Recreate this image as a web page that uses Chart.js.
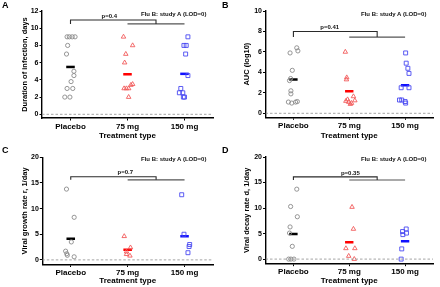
<!DOCTYPE html>
<html>
<head>
<meta charset="utf-8">
<script src="https://cdn.jsdelivr.net/npm/chart.js@4.4.1/dist/chart.umd.min.js"></script>
<style>
  html, body { margin: 0; padding: 0; background: #fff; }
  #wrap { position: relative; width: 440px; height: 287px; font-family: 'Liberation Sans', Arial, sans-serif; overflow: hidden; }
  .cell { position: absolute; }
  .cell canvas { display: block; }
  .lbl { position: absolute; font-weight: bold; font-size: 9px; line-height: 9px; color: #000; }
  .study { position: absolute; font-weight: bold; font-size: 6px; line-height: 6px; white-space: nowrap; color: #111; }
</style>
</head>
<body>
<div id="wrap">
  <div class="cell" style="left:0;top:0"><canvas id="cA" width="220" height="143"></canvas></div>
  <div class="cell" style="left:220px;top:0"><canvas id="cB" width="220" height="143"></canvas></div>
  <div class="cell" style="left:0;top:143px"><canvas id="cC" width="220" height="144"></canvas></div>
  <div class="cell" style="left:220px;top:143px"><canvas id="cD" width="220" height="144"></canvas></div>
  <div class="lbl" style="left:2px;top:1px">A</div>
  <div class="lbl" style="left:222px;top:1px">B</div>
  <div class="lbl" style="left:2px;top:146px">C</div>
  <div class="lbl" style="left:222px;top:146px">D</div>
  <div class="study" style="left:141px;top:11px">Flu B: study A (LOD=0)</div>
  <div class="study" style="left:361px;top:11px">Flu B: study A (LOD=0)</div>
  <div class="study" style="left:141px;top:156px">Flu B: study A (LOD=0)</div>
  <div class="study" style="left:361px;top:156px">Flu B: study A (LOD=0)</div>
</div>
<script>
const groups = ['Placebo', '75 mg', '150 mg'];

// A: duration of infection (days)
const durTicks = [0, 2, 4, 6, 8, 10, 12];
const durPlaceboVals = [9, 9, 9, 9, 8, 7, 5, 4.5, 3.8, 3, 3, 2, 2];
const durPlaceboJit = [-0.06, -0.02, 0.03, 0.08, -0.05, -0.07, 0.06, 0.06, 0.01, -0.06, 0.04, -0.1, -0.01];
const dur75Vals = [9, 8, 7, 6, 3.5, 3.4, 3, 3, 3, 2];
const dur75Jit = [-0.07, 0.09, -0.03, -0.05, 0.09, 0.06, -0.06, -0.02, 0.02, 0.02];
const dur150Vals = [9, 8, 8, 7, 4.5, 3, 2.5, 2.5, 2, 2];
const dur150Jit = [0.06, -0.01, 0.03, 0.02, 0.06, -0.065, -0.09, -0.03, -0.02, 0];
const durMedians = [5.5, 4.65, 4.7];
const durBracket = [10.95, 10.5];

// B: AUC (log10)
const aucTicks = [0, 2, 4, 6, 8, 10];
const aucPlaceboVals = [6.4, 6.1, 5.9, 4.2, 3.4, 3.2, 2.2, 1.9, 1.1, 1.0, 1.1, 1.15];
const aucPlaceboJit = [0.06, 0.08, -0.06, -0.02, -0.05, -0.07, -0.045, -0.045, -0.09, -0.03, 0.04, 0.07];
const auc75Vals = [6, 3.5, 3.3, 1.65, 1.35, 1.25, 1.2, 1.1, 0.9, 1.0];
const auc75Jit = [-0.07, -0.045, -0.05, 0.075, -0.03, 0.1, -0.06, -0.01, 0.02, 0.04];
const auc150Vals = [5.9, 4.9, 4.4, 3.9, 2.5, 2.5, 1.3, 1.3, 1.15, 1.0];
const auc150Jit = [0.01, 0.02, 0.05, 0.07, -0.07, 0.07, -0.1, -0.06, 0, 0.01];
const aucMedians = [3.3, 2.15, 2.75];
const aucBracket = [8, 7.45];

// C: viral growth rate r (1/day)
const growTicks = [0, 5, 10, 15, 20];
const growPlaceboVals = [13.8, 8.3, 3.5, 1.7, 1.2, 0.9, 0.6];
const growPlaceboJit = [-0.075, 0.06, 0.01, -0.09, -0.07, -0.06, 0.06];
const grow75Vals = [4.6, 2.4, 1.6, 1.1, 0.8];
const grow75Jit = [-0.06, 0.05, -0.02, -0.02, 0.04];
const grow150Vals = [12.7, 5.0, 3.0, 2.6, 1.4];
const grow150Jit = [-0.05, -0.01, 0.09, 0.08, 0.06];
const growMedians = [4.1, 2.0, 4.6];
const growBracket = [16.2, 15.6];

// D: viral decay rate d (1/day)
const decTicks = [0, 5, 10, 15, 20];
const decPlaceboVals = [13.7, 10.3, 8.3, 6.3, 5.1, 2.5, 0, 0, 0];
const decPlaceboJit = [0.06, -0.05, 0.07, -0.06, -0.07, -0.02, -0.085, -0.045, 0.01];
const dec75Vals = [10.2, 5.9, 2.1, 2.1, 0.6, 0];
const dec75Jit = [0.05, 0.075, -0.06, 0.1, -0.01, 0.09];
const dec150Vals = [5.9, 5.4, 5.1, 4.8, 2.0, 0];
const dec150Jit = [0.02, -0.045, 0.025, -0.04, -0.06, -0.07];
const decMedians = [4.9, 3.3, 3.5];
const decBracket = [16.1, 15.5];

const pTexts = ['p=0.4', 'p=0.41', 'p=0.7', 'p=0.35'];

const font = "'Liberation Sans', Arial, sans-serif";
const ptStyles = ['circle', 'triangle', 'rect'];
const ptRadius = [2.1, 2.6, 2.8];
const ptColors = ['#8a8a8a', '#f25a5a', '#4a4af2'];
const medColors = ['#000000', '#ff0000', '#1010ff'];

const panels = [
  { id: 'A', yTitle: 'Duration of infection, days', ticks: durTicks, yMin: -0.43, yMax: 12,
    vals: [durPlaceboVals, dur75Vals, dur150Vals], jit: [durPlaceboJit, dur75Jit, dur150Jit],
    med: durMedians, br: durBracket, p: pTexts[0], pX: 0.68,
    top: 11, yW: 42, xH: 25, yPad: 20.5, xPad: 2.2 },
  { id: 'B', yTitle: 'AUC (log10)', ticks: aucTicks, yMin: -0.39, yMax: 10,
    vals: [aucPlaceboVals, auc75Vals, auc150Vals], jit: [aucPlaceboJit, auc75Jit, auc150Jit],
    med: aucMedians, br: aucBracket, p: pTexts[1], pX: 0.65,
    top: 11, yW: 45.5, xH: 25.7, yPad: 22.5, xPad: 2.2 },
  { id: 'C', yTitle: 'Viral growth rate r, 1/day', ticks: growTicks, yMin: -0.9, yMax: 20,
    vals: [growPlaceboVals, grow75Vals, grow150Vals], jit: [growPlaceboJit, grow75Jit, grow150Jit],
    med: growMedians, br: growBracket, p: pTexts[2], pX: 0.96,
    top: 14.3, yW: 42.3, xH: 22.5, yPad: 20.5, xPad: 1.6 },
  { id: 'D', yTitle: 'Viral decay rate d, 1/day', ticks: decTicks, yMin: -0.9, yMax: 20,
    vals: [decPlaceboVals, dec75Vals, dec150Vals], jit: [decPlaceboJit, dec75Jit, dec150Jit],
    med: decMedians, br: decBracket, p: pTexts[3], pX: 1.02,
    top: 14, yW: 45.5, xH: 23.3, yPad: 22.5, xPad: 1.6 }
];

// p-value text above the comparison bracket
const pLabel = {
  id: 'pLabel',
  afterDatasetsDraw(chart, args, o) {
    if (!o || !o.text) return;
    const ctx = chart.ctx;
    const x = chart.scales.x.getPixelForValue(o.x);
    const y = chart.scales.y.getPixelForValue(o.y);
    ctx.save();
    ctx.font = 'bold 6px ' + font;
    ctx.fillStyle = '#111';
    ctx.textAlign = 'center';
    ctx.fillText(o.text, x, y - 2.3);
    ctx.restore();
  }
};

function makeChart(p) {
  const ds = [];
  ds.push({
    data: [{ x: -0.5, y: 0 }, { x: 2.5, y: 0 }],
    showLine: true, borderColor: '#9a9a9a', borderWidth: 0.9, borderDash: [2.5, 2],
    pointRadius: 0
  });
  for (let g = 0; g < 3; g++) {
    ds.push({
      data: p.vals[g].map((v, i) => ({ x: g + p.jit[g][i], y: v })),
      pointStyle: ptStyles[g], pointRadius: ptRadius[g],
      borderColor: ptColors[g], backgroundColor: 'rgba(0,0,0,0)', borderWidth: 0.9
    });
  }
  for (let g = 0; g < 3; g++) {
    ds.push({
      data: [{ x: g - 0.075, y: p.med[g] }, { x: g + 0.075, y: p.med[g] }],
      showLine: true, borderColor: medColors[g], borderWidth: 2.5, borderCapStyle: 'butt',
      pointRadius: 0
    });
  }
  // bracket: placebo vs. the two treatment groups
  ds.push({
    data: [{ x: 0, y: p.br[1] }, { x: 0, y: p.br[0] }, { x: 1.5, y: p.br[0] }, { x: 1.5, y: p.br[1] }],
    showLine: true, borderColor: '#2a2a2a', borderWidth: 1.1, pointRadius: 0
  });
  ds.push({
    data: [{ x: 1, y: p.br[1] }, { x: 2, y: p.br[1] }],
    showLine: true, borderColor: '#555', borderWidth: 1.1, pointRadius: 0
  });

  const ctx = document.getElementById('c' + p.id).getContext('2d');
  new Chart(ctx, {
    type: 'scatter',
    data: { datasets: ds },
    plugins: [pLabel],
    options: {
      responsive: false,
      animation: false,
      events: [],
      layout: { padding: { left: 0, top: p.top, right: 7, bottom: 0 } },
      plugins: {
        legend: { display: false },
        tooltip: { enabled: false },
        pLabel: { text: p.p, x: p.pX, y: p.br[0] }
      },
      scales: {
        x: {
          type: 'linear', min: -0.5, max: 2.5,
          afterBuildTicks: s => { s.ticks = groups.map((g, i) => ({ value: i })); },
          afterFit: s => { s.height = p.xH; },
          ticks: {
            callback: v => groups[v],
            font: { family: font, size: 8, weight: 'bold' }, color: '#000',
            padding: 1, maxRotation: 0, autoSkip: false
          },
          grid: { drawOnChartArea: false, drawTicks: true, tickLength: 2.5, tickColor: '#000', tickWidth: 1 },
          border: { display: true, color: '#000', width: 1.4 },
          title: {
            display: true, text: 'Treatment type', color: '#000',
            font: { family: font, size: 8, weight: 'bold' },
            padding: { top: 0, bottom: p.xPad }
          }
        },
        y: {
          min: p.yMin, max: p.yMax,
          afterBuildTicks: s => { s.ticks = p.ticks.map(v => ({ value: v })); },
          afterFit: s => { s.width = p.yW; },
          ticks: {
            font: { family: font, size: 7, weight: 'bold' }, color: '#000', padding: 1
          },
          grid: { drawOnChartArea: false, drawTicks: true, tickLength: 2.5, tickColor: '#000', tickWidth: 1 },
          border: { display: true, color: '#000', width: 1.4 },
          title: {
            display: true, text: p.yTitle, color: '#000',
            font: { family: font, size: 7.5, weight: 'bold' },
            padding: { top: p.yPad, bottom: 0 }
          }
        }
      }
    }
  });
}

panels.forEach(makeChart);
</script>
</body>
</html>
